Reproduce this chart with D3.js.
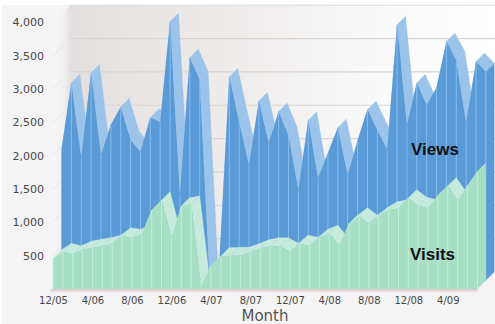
<!DOCTYPE html>
<html>
	<head>
		<title>Views and Visits by month</title>
		<style>
			html, body { margin: 0; padding: 0; background: #fff; overflow: hidden; }
			svg { display: block; }
		</style>
	</head>
	<body>
		<svg id="svg" width="495" height="324"></svg>

		<script src="https://d3js.org/d3.v7.min.js"></script>
		<script>
		// Months along the bottom, one point each
		const months = [
			'12/05','1/06','2/06','3/06','4/06','5/06','6/06','7/06','8/06','9/06','10/06','11/06',
			'12/06','1/07','2/07','3/07','4/07','5/07','6/07','7/07','8/07','9/07','10/07','11/07',
			'12/07','1/08','2/08','3/08','4/08','5/08','6/08','7/08','8/08','9/08','10/08','11/08',
			'12/08','1/09','2/09','3/09','4/09','5/09','6/09','7/09'
		]
		const monthTicks = ['12/05','4/06','8/06','12/06','4/07','8/07','12/07','4/08','8/08','12/08','4/09']
		const valueTicks = [500, 1000, 1500, 2000, 2500, 3000, 3500, 4000]
		const gridValues = [500, 1000, 1500, 2000, 2500, 3000, 3500]

		// Values
		const views = [
			1960, 2960, 1840, 3110, 1880, 2330, 2600, 2110, 1930, 2440, 2380,
			3880, 1280, 3340, 3010, 50, 280, 3050, 2380, 1730, 2690, 2060,
			2530, 2180, 1360, 2400, 1540, 1910, 2290, 1580, 2100, 2560, 2260,
			1960, 3830, 2330, 2960, 2630, 2890, 3580, 3310, 2360, 3280, 3130
		]
		const visits = [
			460, 560, 520, 590, 620, 640, 680, 790, 770, 820, 1180,
			1330, 770, 1240, 1270, 40, 340, 490, 500, 500, 550, 610,
			640, 640, 560, 680, 650, 770, 830, 650, 980, 1090, 980,
			1090, 1180, 1210, 1360, 1250, 1210, 1400, 1540, 1330, 1550, 1760
		]

		const width = 495
		const height = 324
		const depth = 8.5 // each series is one slab this deep

		const svg = d3.select('#svg')

		const xscale = d3.scalePoint().domain(months).range([53, 477.4])
		const yscale = d3.scaleLinear().domain([0, 4000]).range([289, 22.2])

		const defs = svg.append('defs')

		const wallGrad = defs.append('linearGradient').attr('id', 'wall')
		wallGrad.append('stop').attr('offset', '0%').attr('stop-color', '#e3dfde')
		wallGrad.append('stop').attr('offset', '40%').attr('stop-color', '#efedec')
		wallGrad.append('stop').attr('offset', '75%').attr('stop-color', '#fafafa')
		wallGrad.append('stop').attr('offset', '100%').attr('stop-color', '#ffffff')

		const sideGrad = defs.append('linearGradient').attr('id', 'side')
		sideGrad.append('stop').attr('offset', '0%').attr('stop-color', '#f6f6f6')
		sideGrad.append('stop').attr('offset', '70%').attr('stop-color', '#f0efef')
		sideGrad.append('stop').attr('offset', '100%').attr('stop-color', '#e2e0e0')

		const floorGrad = defs.append('linearGradient').attr('id', 'floor')
			.attr('x1', 0).attr('x2', 0).attr('y1', 0).attr('y2', 1)
		floorGrad.append('stop').attr('offset', '0%').attr('stop-color', '#d8c4c6')
		floorGrad.append('stop').attr('offset', '100%').attr('stop-color', '#f4f2f2')

		defs.append('filter').attr('id', 'soft')
			.attr('x', '-5%').attr('y', '-5%').attr('width', '110%').attr('height', '110%')
			.append('feGaussianBlur').attr('stdDeviation', 0.45)

		// Page background
		svg.append('rect').attr('width', width).attr('height', height).attr('fill', '#fff')
		svg.append('rect').attr('x', 2).attr('y', 5)
			.attr('width', width - 2).attr('height', height - 5).attr('fill', '#f4f4f4')

		const chart = svg.append('g').attr('filter', 'url(#soft)')

		const poly = d3.line()
		const x0 = xscale.range()[0]
		const x1 = xscale.range()[1]
		const yBase = yscale(0)
		const yTop = yscale(4000)

		// Back wall, side wall and floor
		chart.append('path')
			.attr('d', poly([[x0, yBase], [x0 + depth * 2, yBase - depth * 2], [x0 + depth * 2, yTop - depth * 2], [x0, yTop]]) + 'Z')
			.attr('fill', 'url(#side)')
		chart.append('rect')
			.attr('x', x0 + depth * 2).attr('y', yTop - depth * 2)
			.attr('width', width - x0 - depth * 2).attr('height', yBase - yTop)
			.attr('fill', 'url(#wall)')
		chart.append('line')
			.attr('x1', x0 + depth * 2).attr('x2', width)
			.attr('y1', yTop - depth * 2).attr('y2', yTop - depth * 2)
			.attr('stroke', '#dcdcdc')
		chart.append('path')
			.attr('d', poly([[x0, yBase], [x1, yBase], [x1 + depth * 2, yBase - depth * 2], [x0 + depth * 2, yBase - depth * 2]]) + 'Z')
			.attr('fill', '#f7f7f7')

		// Grid lines on the wall
		gridValues.forEach(v => {
			chart.append('line')
				.attr('x1', x0 + depth * 2).attr('x2', width)
				.attr('y1', yscale(v) - depth * 2).attr('y2', yscale(v) - depth * 2)
				.attr('stroke', '#dad5d0').attr('stroke-width', 1.2)
			chart.append('line')
				.attr('x1', x0).attr('x2', x0 + depth * 2)
				.attr('y1', yscale(v)).attr('y2', yscale(v) - depth * 2)
				.attr('stroke', '#e6e4e4')
		})

		// Draws one 3D slab: top faces, side, front face, month stripes
		function drawSlab(values, offset, colors) {
			const fx = i => xscale(months[i]) + offset
			const fy = i => yscale(values[i]) - offset
			const base = yBase - offset
			const last = values.length - 1
			const slab = chart.append('g')

			// Top faces, one quad per month
			d3.range(last).forEach(i => {
				slab.append('path')
					.attr('d', poly([
						[fx(i), fy(i)],
						[fx(i + 1), fy(i + 1)],
						[fx(i + 1) + depth, fy(i + 1) - depth],
						[fx(i) + depth, fy(i) - depth]
					]) + 'Z')
					.attr('fill', colors.top)
					.attr('stroke', colors.top)
					.attr('stroke-width', 0.3)
			})

			// Right end of the slab
			slab.append('path')
				.attr('d', poly([
					[fx(last), fy(last)],
					[fx(last) + depth, fy(last) - depth],
					[fx(last) + depth, base - depth],
					[fx(last), base]
				]) + 'Z')
				.attr('fill', colors.end)

			const area = d3.area()
				.x((d, i) => fx(i))
				.y0(base)
				.y1((d, i) => fy(i))
			slab.append('path')
				.attr('d', area(values))
				.attr('fill', colors.front)

			slab.selectAll('line')
				.data(values)
				.join('line')
				.attr('x1', (d, i) => fx(i))
				.attr('x2', (d, i) => fx(i))
				.attr('y1', (d, i) => fy(i))
				.attr('y2', base)
				.attr('stroke', colors.stripe)
				.attr('stroke-width', 1)
		}

		drawSlab(views, depth, { front: '#5a9ad6', top: '#9cc4ea', end: '#5a9ad6', stripe: '#86bdee' })

		// Pink edge under the front of the floor
		chart.append('rect')
			.attr('x', x0 - 2).attr('y', yBase)
			.attr('width', x1 - x0 + 2).attr('height', 4)
			.attr('fill', 'url(#floor)')

		drawSlab(visits, 0, { front: '#a6dfc4', top: '#c6ebdc', end: '#a6dfc4', stripe: '#c6edda' })

		// Axes
		const leftAxis = d3.axisLeft(yscale)
			.tickValues(valueTicks)
			.tickFormat(d3.format(','))
			.tickSize(0)
			.tickPadding(0)
		const yAxis = svg.append('g')
			.attr('transform', 'translate(44, 0)')
			.call(leftAxis)
		yAxis.select('.domain').remove()
		yAxis.selectAll('text')
			.attr('font-family', 'DejaVu Sans')
			.attr('font-size', 11)
			.attr('fill', '#484848')

		const bottomAxis = d3.axisBottom(xscale)
			.tickValues(monthTicks)
			.tickSize(0)
			.tickPadding(0)
		const xAxis = svg.append('g')
			.attr('transform', 'translate(0, 297)')
			.call(bottomAxis)
		xAxis.select('.domain').remove()
		xAxis.selectAll('text')
			.attr('font-family', 'DejaVu Sans')
			.attr('font-size', 10)
			.attr('fill', '#484848')

		svg.append('text')
			.attr('x', 265).attr('y', 321)
			.attr('text-anchor', 'middle')
			.attr('font-family', 'DejaVu Sans')
			.attr('font-size', 15)
			.attr('fill', '#555')
			.text('Month')

		// Series names
		svg.append('text')
			.attr('x', 411).attr('y', 155)
			.attr('font-family', 'Liberation Sans')
			.attr('font-weight', 'bold')
			.attr('font-size', 17)
			.attr('fill', '#111')
			.text('Views')
		svg.append('text')
			.attr('x', 410).attr('y', 260)
			.attr('font-family', 'Liberation Sans')
			.attr('font-weight', 'bold')
			.attr('font-size', 17)
			.attr('fill', '#111')
			.text('Visits')
		</script>
	</body>
</html>
